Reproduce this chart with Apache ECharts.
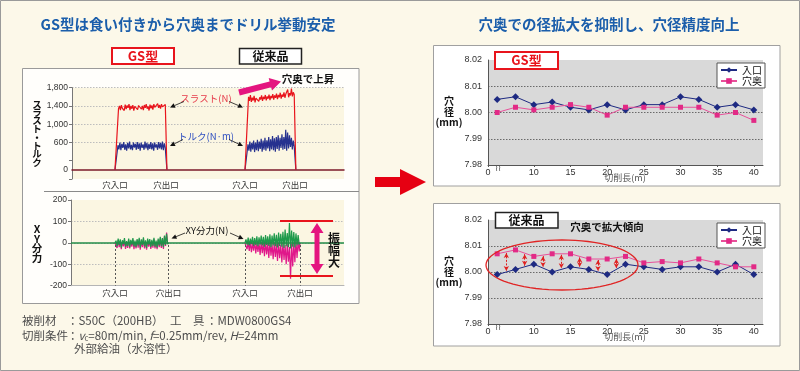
<!DOCTYPE html>
<html><head><meta charset="utf-8">
<script src="https://cdn.jsdelivr.net/npm/echarts@6/dist/echarts.min.js"></script>
<style>html,body{margin:0;padding:0;background:#fcf8e9}#c{width:800px;height:371px}</style>
</head><body><div id="c"></div>
<script>
// ---------------- DATA ----------------
// Left: thrust / torque and XY force (sample values)
const eventNames = ['穴入口', '穴出口', '穴入口', '穴出口'];
const thrustMarks = [15.8, 34.6, 63.6, 82.0];
const xyMarks = [16.1, 35.7, 63.7, 83.9];
const thrustLabelTicks = [0, 600, 1000, 1400, 1800];
const thrustGS = [1340,1400,1310,1420,1350,1390,1300,1430,1330,1410,1360,1440,1310,1400,1340,1420,1300,1390,1350,1430,1320,1410,1370,1450,1330,1400,1310,1420,1360,1440,1340,1390,1300,1430,1350,1410,1320,1440,1370,1400,1330,1450,1360,1420,1340,1440,1380,1410,1350,1430];
const thrustConv = [1600,1510,1640,1490,1580,1520,1620,1480,1570,1530,1610,1500,1590,1540,1630,1510,1600,1550,1640,1520,1610,1560,1650,1530,1620,1570,1660,1540,1630,1580,1670,1550,1640,1590,1690,1560,1650,1600,1700,1580,1660,1620,1760,1590,1680,1630,1780,1610,1700,1650];
const torqueGS = [540,450,600,430,570,480,610,440,560,420,590,470,620,450,550,430,600,490,570,440,610,460,580,420,600,480,560,440,620,470,590,430,570,460,610,450,580,420,600,490,560,440,610,470,590,450,620,430,580,480];
const torqueConv = [560,420,620,400,590,450,640,390,600,430,660,410,620,460,680,400,640,440,700,420,650,470,720,410,670,450,740,430,690,400,720,460,760,420,700,480,780,440,720,460,880,420,820,470,760,500,700,450,640,520];
const xyGreenGS = [10,-16,20,-10,16,-22,12,-6,22,-18,8,-14,20,-20,14,-8,22,-16,10,-20,18,-12,24,-22,16,-10,26,-16,12,-24,20,-8,18,-20,14,-14,24,-18,10,-22,20,-12,28,-16,22,-20,34,-10,42,-6];
const xyPinkGS = [2,-24,12,-20,8,-30,6,-16,14,-28,4,-24,12,-26,8,-18,14,-30,2,-26,12,-22,16,-32,10,-20,18,-26,6,-32,12,-18,10,-28,8,-22,16,-26,4,-30,12,-20,20,-24,16,-28,30,-14,48,-4];
const xyGreenConv = [16,-8,24,-12,20,-6,28,-14,22,-10,30,-16,26,-8,34,-12,28,-18,36,-10,30,-14,40,-20,34,-12,44,-16,38,-22,48,-14,42,-18,52,-24,62,-16,46,-20,92,-26,58,-18,50,-22,44,-12,36,-8];
const xyPinkConv = [2,-30,8,-38,4,-44,0,-36,6,-50,2,-42,0,-56,6,-48,0,-62,4,-54,0,-70,6,-60,-4,-76,2,-66,-6,-84,0,-72,-8,-92,0,-80,-10,-100,-4,-88,-20,-168,-6,-110,0,-90,10,-70,16,-40];

// Right: hole diameter vs cutting length
const cutLength = [5, 7.5, 10, 12.5, 15, 17.5, 20, 22.5, 25, 27.5, 30, 32.5, 35, 37.5, 40];
const cutAxisStart = 3.75;          // axis start shown as "0" (broken axis)
const cutLengthTicks = [10, 15, 20, 25, 30, 35, 40];
const gsEntry = [8.005,8.006,8.003,8.004,8.002,8.001,8.003,8.001,8.003,8.003,8.006,8.005,8.002,8.003,8.001];
const gsDeep  = [8.000,8.002,8.001,8.002,8.003,8.002,7.999,8.002,8.002,8.002,8.002,8.002,7.999,8.000,7.997];
const convEntry = [7.999,8.001,8.003,8.000,8.002,8.001,7.999,8.003,8.002,8.001,8.002,8.002,8.000,8.003,7.999];
const convDeep  = [8.007,8.0085,8.006,8.007,8.007,8.005,8.005,8.006,8.0035,8.004,8.0035,8.005,8.0035,8.002,8.002];

// ---------------- HELPERS ----------------
const JP = '"Noto Sans CJK JP","Noto Sans",sans-serif';
const NUM = '"Liberation Sans","DejaVu Sans",sans-serif';

function plateau(a, b, vals, rise, fall) {
  const s = a + rise, e = b - fall;
  const pts = [[a, 0]];
  vals.forEach((v, i) => pts.push([s + (e - s) * i / (vals.length - 1), v]));
  pts.push([b, 0]);
  return pts;
}
function T(x, y, text, o) {
  return { type: 'text', x: x, y: y, z: 100, silent: true,
    style: Object.assign({ text: text, fill: '#111', fontSize: 10, fontFamily: JP,
      align: 'center', verticalAlign: 'middle', textAlign: 'center', textVerticalAlign: 'middle' }, o || {}) };
}
function R(x, y, w, h, fill, stroke, lw, z) {
  return { type: 'rect', z: z, silent: true, shape: { x: x, y: y, width: w, height: h },
    style: { fill: fill, stroke: stroke, lineWidth: lw } };
}
function L(x1, y1, x2, y2, stroke, lw, z) {
  return { type: 'line', z: z || 100, silent: true, shape: { x1: x1, y1: y1, x2: x2, y2: y2 },
    style: { stroke: stroke, lineWidth: lw } };
}
function blockArrow(x1, y1, x2, y2, bw, hw, hl, color, dbl) {
  const dx = x2 - x1, dy = y2 - y1, len = Math.hypot(dx, dy), ux = dx / len, uy = dy / len, nx = -uy, ny = ux;
  const P = (t, s) => [x1 + ux * t + nx * s, y1 + uy * t + ny * s];
  let pts;
  if (!dbl) pts = [P(0, bw / 2), P(len - hl, bw / 2), P(len - hl, hw / 2), P(len, 0), P(len - hl, -hw / 2), P(len - hl, -bw / 2), P(0, -bw / 2)];
  else pts = [P(0, 0), P(hl, hw / 2), P(hl, bw / 2), P(len - hl, bw / 2), P(len - hl, hw / 2), P(len, 0), P(len - hl, -hw / 2), P(len - hl, -bw / 2), P(hl, -bw / 2), P(hl, -hw / 2)];
  return { type: 'polygon', z: 100, silent: true, shape: { points: pts }, style: { fill: color } };
}
function thinArrow(x1, y1, x2, y2, color) {
  const dx = x2 - x1, dy = y2 - y1, len = Math.hypot(dx, dy), ux = dx / len, uy = dy / len, nx = -uy, ny = ux;
  const hl = 5, hw = 2.4;
  const bx = x2 - ux * hl, by = y2 - uy * hl;
  return [L(x1, y1, bx, by, color, 0.8),
    { type: 'polygon', z: 100, silent: true, shape: { points: [[x2, y2], [bx + nx * hw, by + ny * hw], [bx - nx * hw, by - ny * hw]] }, style: { fill: color } }];
}
function ellipsePts(cx, cy, rx, ry) {
  const p = [];
  for (let i = 0; i < 72; i++) { const a = i / 72 * Math.PI * 2; p.push([cx + rx * Math.cos(a), cy + ry * Math.sin(a)]); }
  return p;
}

// arrows between the two conventional-tool series (computed from data)
const gapArrows = [];
for (let i = 0; i < 7; i++) {
  const xm = (cutLength[i] + cutLength[i + 1]) / 2;
  const top = (convDeep[i] + convDeep[i + 1]) / 2;
  const bot = (convEntry[i] + convEntry[i + 1]) / 2;
  gapArrows.push([{ coord: [xm, top - 0.0004] }, { coord: [xm, bot + 0.0004] }]);
}

// ---------------- CHART ----------------
const chart = echarts.init(document.getElementById('c'), null, { renderer: 'canvas' });

const noisy = (xi, yi, data, color, w) => ({ type: 'line', xAxisIndex: xi, yAxisIndex: yi, data: data,
  symbol: 'none', showSymbol: false, silent: true, animation: false, lineStyle: { width: w || 1, color: color } });

const diaAxisY = (gi) => ({ gridIndex: gi, type: 'value', min: 7.98, max: 8.02, interval: 0.01,
  axisLine: { show: true, lineStyle: { color: '#555' } }, axisTick: { show: false },
  axisLabel: { formatter: v => v.toFixed(2), fontSize: 9, color: '#333', fontFamily: NUM, margin: 6 },
  splitLine: { show: true, showMinLine: false, showMaxLine: false, lineStyle: { color: '#6a6a6a', type: [1.5, 1.5], width: 1 } } });
const diaAxisX = (gi) => ({ gridIndex: gi, type: 'value', min: cutAxisStart, max: 41.25,
  axisLine: { onZero: false, lineStyle: { color: '#555' } },
  axisTick: { show: true, length: 2, customValues: [cutAxisStart].concat(cutLengthTicks), lineStyle: { color: '#555' } },
  axisLabel: { customValues: [cutAxisStart].concat(cutLengthTicks), formatter: v => v === cutAxisStart ? '0' : String(v),
    fontSize: 9, color: '#333', fontFamily: NUM, margin: 3 },
  splitLine: { show: false } });
const legendOf = (top) => ({ left: 717, top: top, orient: 'vertical', data: ['入口', '穴奥'], selectedMode: false,
  backgroundColor: '#fff', borderColor: '#555', borderWidth: 1, padding: [2, 3, 2, 3], itemGap: 1,
  itemWidth: 16, itemHeight: 7, textStyle: { fontSize: 10, fontFamily: JP, color: '#111' } });
const entryStyle = { type: 'line', symbol: 'diamond', symbolSize: 7, animation: false,
  itemStyle: { color: '#1e2a82' }, lineStyle: { color: '#1e2a82', width: 1 } };
const deepStyle = { type: 'line', symbol: 'rect', symbolSize: 5, animation: false,
  itemStyle: { color: '#e22a86' }, lineStyle: { color: '#e8509a', width: 1 } };

const graphic = [];
// frame & panels
graphic.push(R(0.5, 0.5, 799, 370, 'none', '#9a9a9a', 1, 200));
graphic.push(R(22.5, 68.5, 336.5, 235, '#fffefb', '#9a9a9a', 1, -5));
graphic.push(R(433.5, 45.5, 346.5, 140.5, '#ffffff', '#a0a0a0', 1, -5));
graphic.push(R(433.5, 203.5, 346.5, 142.5, '#ffffff', '#a0a0a0', 1, -5));
graphic.push(L(44, 191.5, 359, 191.5, '#8a8a8a', 1, 1));
// titles
graphic.push(T(188, 24, 'GS型は食い付きから穴奥までドリル挙動安定', { fill: '#1b5eab', fontSize: 14.5, fontWeight: 'bold' }));
graphic.push(T(609, 24, '穴奥での径拡大を抑制し、穴径精度向上', { fill: '#1b5eab', fontSize: 14.5, fontWeight: 'bold' }));
// label boxes
graphic.push(R(112, 48, 62, 16, '#fff', '#e8141c', 2, 100));
graphic.push(T(143, 56.5, 'GS型', { fill: '#e8141c', fontSize: 13, fontWeight: 'bold' }));
graphic.push(R(239.5, 48.5, 62, 15.5, '#fff', '#222', 1.5, 100));
graphic.push(T(270.5, 56.5, '従来品', { fontSize: 12, fontWeight: 'bold' }));
graphic.push(R(495, 52, 63, 17, '#fff', '#e8141c', 2, 100));
graphic.push(T(526.5, 60.5, 'GS型', { fill: '#e8141c', fontSize: 13, fontWeight: 'bold' }));
graphic.push(R(495.5, 212.5, 62.5, 15.5, '#fff', '#222', 1.5, 100));
graphic.push(T(526.5, 220.5, '従来品', { fontSize: 12, fontWeight: 'bold' }));
// axis names
graphic.push(T(37, 133, 'ス\nラ\nス\nト\n・\nト\nル\nク', { fontSize: 9.5, fontWeight: 'bold', lineHeight: 8.3 }));
graphic.push(T(37, 243.5, 'X\nY\n分\n力', { fontSize: 10.5, fontWeight: 'bold', lineHeight: 9.6 }));
graphic.push(T(449, 112, '穴\n径\n(mm)', { fontSize: 10, fontWeight: 'bold', lineHeight: 10.5 }));
graphic.push(T(449, 272, '穴\n径\n(mm)', { fontSize: 10, fontWeight: 'bold', lineHeight: 10.5 }));
graphic.push(T(625, 178, '切削長(m)', { fontSize: 9, fill: '#555' }));
graphic.push(T(625, 337, '切削長(m)', { fontSize: 9, fill: '#555' }));
graphic.push(T(498, 168.5, '≀≀', { fontSize: 8, fill: '#444', fontFamily: '"DejaVu Sans",sans-serif' }));
graphic.push(T(498, 328, '≀≀', { fontSize: 8, fill: '#444', fontFamily: '"DejaVu Sans",sans-serif' }));
// left annotations
graphic.push(T(206, 98, 'スラスト(N)', { fill: '#e63a4a', fontSize: 9.5 }));
graphic.push(T(206, 136.5, 'トルク(N·m)', { fill: '#2f4fc0', fontSize: 9.5 }));
graphic.push(...thinArrow(184, 101.5, 170, 107.5, '#111'));
graphic.push(...thinArrow(229, 101.5, 243, 107.5, '#111'));
graphic.push(...thinArrow(183, 139.5, 170, 146, '#111'));
graphic.push(...thinArrow(229, 139.5, 243, 146, '#111'));
graphic.push(T(308, 79, '穴奥で上昇', { fontSize: 10.5, fontWeight: 'bold' }));
graphic.push(blockArrow(239, 92.5, 281, 81.5, 6, 13, 11, '#e4157f'));
graphic.push(T(207, 230, 'XY分力(N)', { fontSize: 9.5 }));
graphic.push(...thinArrow(185, 233, 171.5, 238.5, '#111'));
graphic.push(...thinArrow(230, 233, 243.5, 239, '#111'));
graphic.push(L(280, 221, 333, 221, '#e8141c', 2));
graphic.push(L(280, 276, 333, 276, '#e8141c', 2));
graphic.push(blockArrow(317, 223, 317, 274, 5, 13, 10, '#e4157f', true));
graphic.push(T(334, 250, '振\n幅\n大', { fontSize: 12, fontWeight: 'bold', lineHeight: 12 }));
// middle arrow
graphic.push(blockArrow(375, 182, 426, 182, 10, 26, 26, '#e60012'));
// right annotations
graphic.push(T(607, 227, '穴奥で拡大傾向', { fontSize: 10.5, fontWeight: 'bold' }));
graphic.push({ type: 'polygon', z: 100, silent: true, shape: { points: ellipsePts(562, 265, 76, 25) },
  style: { fill: 'none', stroke: '#e02424', lineWidth: 1.3 } });
// footer
const F = { fontSize: 11.5, fill: '#4d4d4d', align: 'left', textAlign: 'left' };
graphic.push(T(22, 321, '被削材', F));
graphic.push(T(67, 321, '：S50C（200HB）', F));
graphic.push(T(170, 321, '工　具', F));
graphic.push(T(206, 321, '：MDW0800GS4', F));
graphic.push(T(22, 336, '切削条件', F));
graphic.push(T(67, 336, '：{i|v}{s|c}=80m/min, {i|f}=0.25mm/rev, {i|H}=24mm', Object.assign({}, F, {
  rich: { i: { fontStyle: 'italic', fontSize: 11.5, fill: '#4d4d4d', fontFamily: JP },
          s: { fontSize: 7.5, fill: '#4d4d4d', fontFamily: JP, verticalAlign: 'bottom', padding: [4, 0, 0, 0] } } })));
graphic.push(T(74, 349, '外部給油（水溶性）', F));

const option = {
  backgroundColor: '#fcf8e9',
  animation: false,
  textStyle: { fontFamily: JP },
  grid: [
    { left: 72, top: 87.7, width: 272, height: 91.3, show: true, backgroundColor: '#fbf6e2', borderWidth: 0 },
    { left: 71, top: 200, width: 273, height: 85.7, show: true, backgroundColor: '#fbf6e2', borderWidth: 0 },
    { left: 488, top: 60, width: 275, height: 105, show: true, backgroundColor: '#d9d9d9', borderWidth: 0 },
    { left: 488, top: 220, width: 275, height: 104, show: true, backgroundColor: '#d9d9d9', borderWidth: 0 }
  ],
  legend: [legendOf(63), legendOf(223)],
  xAxis: [
    { gridIndex: 0, type: 'value', min: 0, max: 100,
      axisLine: { show: true, onZero: true, lineStyle: { color: '#7c1a2a', width: 1.5 } }, axisTick: { show: false },
      axisLabel: { customValues: thrustMarks, formatter: v => eventNames[thrustMarks.indexOf(v)], fontSize: 8.5, color: '#333', margin: 2, fontFamily: JP },
      splitLine: { show: false } },
    { gridIndex: 1, type: 'value', min: 0, max: 100,
      axisLine: { show: true, onZero: false, lineStyle: { color: '#b5b5b5', width: 1 } }, axisTick: { show: false },
      axisLabel: { customValues: xyMarks, formatter: v => eventNames[xyMarks.indexOf(v)], fontSize: 8.5, color: '#333', margin: 3, fontFamily: JP },
      splitLine: { show: false } },
    diaAxisX(2), diaAxisX(3)
  ],
  yAxis: [
    { gridIndex: 0, type: 'value', min: -200, max: 1800, interval: 400,
      axisLine: { show: true, lineStyle: { color: '#777' } }, axisTick: { show: true, length: 3, lineStyle: { color: '#777' } },
      axisLabel: { customValues: thrustLabelTicks, formatter: v => v.toLocaleString('en-US'), fontSize: 8.5, color: '#333', margin: 4, fontFamily: NUM },
      splitLine: { show: true, showMinLine: false, lineStyle: { color: ['rgba(0,0,0,0)', '#bdbdbd', '#bdbdbd', '#bdbdbd', '#bdbdbd'], type: [1.5, 1.5] } } },
    { gridIndex: 1, type: 'value', min: -200, max: 200, interval: 100,
      axisLine: { show: true, lineStyle: { color: '#777' } }, axisTick: { show: true, length: 3, lineStyle: { color: '#777' } },
      axisLabel: { fontSize: 8.5, color: '#333', margin: 4, fontFamily: NUM },
      splitLine: { show: true, showMinLine: false, showMaxLine: false, lineStyle: { color: '#bdbdbd', type: [1.5, 1.5] } } },
    diaAxisY(2), diaAxisY(3)
  ],
  series: [
    noisy(0, 0, plateau(thrustMarks[0], thrustMarks[1] + 0.3, torqueGS, 1.1, 0.6), '#26318f', 1.2),
    noisy(0, 0, plateau(thrustMarks[2], thrustMarks[3] + 0.3, torqueConv, 1.1, 0.6), '#26318f', 1.2),
    noisy(0, 0, plateau(thrustMarks[0], thrustMarks[1] + 0.3, thrustGS, 1.3, 0.6), '#e8141c', 1.2),
    noisy(0, 0, plateau(thrustMarks[2], thrustMarks[3] + 0.3, thrustConv, 1.3, 0.6), '#e8141c', 1.2),
    Object.assign(noisy(1, 1, plateau(xyMarks[0], xyMarks[1], xyPinkGS, 0.4, 0.3), '#e0178a', 1.2), {
      markLine: { silent: true, symbol: 'none', label: { show: false }, lineStyle: { color: '#555', type: [2, 2], width: 1 },
        data: xyMarks.map(m => [{ coord: [m, -10] }, { coord: [m, -200] }]) } }),
    noisy(1, 1, plateau(xyMarks[2], xyMarks[3], xyPinkConv, 0.4, 0.3), '#e0178a', 1.2),
    Object.assign(noisy(1, 1, plateau(xyMarks[0], xyMarks[1], xyGreenGS, 0.4, 0.3), '#1f9a4b', 1.2), {
      markLine: { silent: true, symbol: 'none', label: { show: false }, lineStyle: { color: '#238c48', type: 'solid', width: 1.5 },
        data: [{ yAxis: 0 }] } }),
    noisy(1, 1, plateau(xyMarks[2], xyMarks[3], xyGreenConv, 0.4, 0.3), '#1f9a4b', 1.2),
    Object.assign({ name: '入口', xAxisIndex: 2, yAxisIndex: 2, data: cutLength.map((x, i) => [x, gsEntry[i]]) }, entryStyle),
    Object.assign({ name: '穴奥', xAxisIndex: 2, yAxisIndex: 2, data: cutLength.map((x, i) => [x, gsDeep[i]]) }, deepStyle),
    Object.assign({ name: '入口', xAxisIndex: 3, yAxisIndex: 3, data: cutLength.map((x, i) => [x, convEntry[i]]) }, entryStyle),
    Object.assign({ name: '穴奥', xAxisIndex: 3, yAxisIndex: 3, data: cutLength.map((x, i) => [x, convDeep[i]]),
      markLine: { silent: true, symbol: ['arrow', 'arrow'], symbolSize: [4, 5], label: { show: false },
        lineStyle: { color: '#e02020', type: [2, 1.5], width: 1 }, data: gapArrows } }, deepStyle)
  ],
  graphic: { elements: graphic }
};
chart.setOption(option);
</script></body></html>
